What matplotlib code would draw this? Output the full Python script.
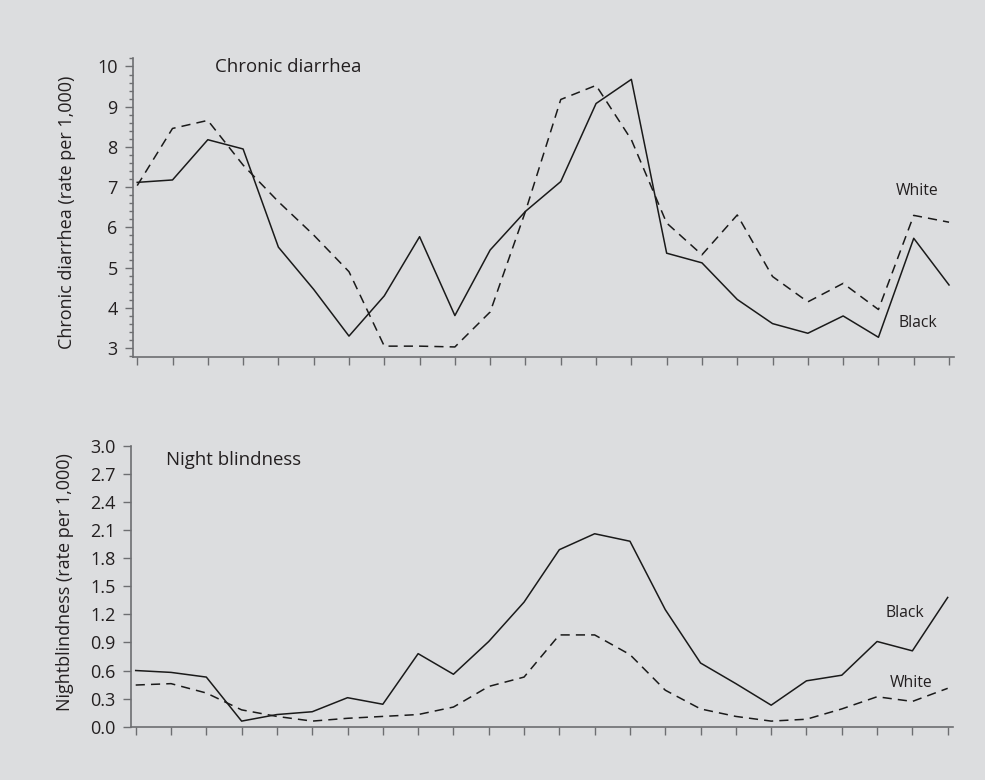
import matplotlib
matplotlib.use('Agg')
from matplotlib import pyplot as plt
from matplotlib.ticker import MultipleLocator
import numpy as np

# Chronic diarrhea, rate per 1,000 (24 periods)
diarrhea_black = [7.12, 7.18, 8.18, 7.95, 5.51, 4.46, 3.30, 4.30, 5.77, 3.81, 5.44, 6.40,
                  7.14, 9.08, 9.68, 5.36, 5.12, 4.21, 3.61, 3.37, 3.80, 3.27, 5.73, 4.57]
diarrhea_white = [7.04, 8.46, 8.66, 7.55, 6.64, 5.81, 4.90, 3.05, 3.05, 3.03, 3.90, 6.40,
                  9.18, 9.53, 8.18, 6.11, 5.32, 6.31, 4.78, 4.15, 4.61, 3.96, 6.30, 6.13]

# Night blindness, rate per 1,000
night_black = [0.60, 0.58, 0.53, 0.06, 0.13, 0.16, 0.31, 0.24, 0.78, 0.56, 0.91, 1.33,
               1.89, 2.06, 1.98, 1.25, 0.68, 0.46, 0.23, 0.49, 0.55, 0.91, 0.81, 1.38]
night_white = [0.445, 0.46, 0.36, 0.18, 0.11, 0.06, 0.09, 0.11, 0.13, 0.21, 0.43, 0.53,
               0.98, 0.98, 0.77, 0.39, 0.19, 0.11, 0.06, 0.08, 0.19, 0.32, 0.27, 0.41]

periods = np.arange(len(diarrhea_black))

bg = '#dcdddf'
txt = '#231f20'
axis_col = '#6d6e71'
font = 'Open Sans'

plt.rcParams['font.family'] = font

fig = plt.figure(figsize=(9.85, 7.8), dpi=100, facecolor=bg)


def style_axes(ax, xlim):
    ax.set_facecolor(bg)
    for s in ['top', 'right']:
        ax.spines[s].set_visible(False)
    for s in ['left', 'bottom']:
        ax.spines[s].set_color(axis_col)
        ax.spines[s].set_linewidth(1.2)
    ax.tick_params(axis='both', which='major', direction='out', length=6, width=1,
                   color=axis_col, labelsize=13, labelcolor=txt, pad=5)
    ax.tick_params(axis='x', labelbottom=False)
    ax.set_xticks(periods)
    ax.set_xlim(*xlim)


# Oben: chronischer Durchfall
ax1 = fig.add_axes([0.135, 0.5423, 0.8335, 0.3833])
style_axes(ax1, (-0.12, 23.14))
ax1.plot(periods, diarrhea_black, color='#1a1a1a', lw=1.1)
ax1.plot(periods, diarrhea_white, color='#1a1a1a', lw=1.1, dashes=(6, 4))
ax1.set_ylim(2.78, 10.21)
ax1.set_yticks(range(3, 11))
ax1.yaxis.set_minor_locator(MultipleLocator(0.2))
ax1.tick_params(axis='y', which='minor', direction='out', length=3.2, width=1, color=axis_col)
ax1.set_ylabel('Chronic diarrhea (rate per 1,000)', fontsize=13, color=txt)
ax1.yaxis.set_label_coords(-0.069, 0.483)
ax1.text(0.1, 0.97, 'Chronic diarrhea', transform=ax1.transAxes, fontsize=13.4,
         color=txt, ha='left', va='center')
ax1.text(22.1, 6.81, 'White', fontsize=11.3, color=txt, ha='center', va='baseline')
ax1.text(22.12, 3.53, 'Black', fontsize=11.3, color=txt, ha='center', va='baseline')

# Unten: Nachtblindheit
ax2 = fig.add_axes([0.133, 0.0683, 0.8345, 0.3603])
style_axes(ax2, (-0.133, 23.15))
ax2.plot(periods, night_black, color='#1a1a1a', lw=1.1)
ax2.plot(periods, night_white, color='#1a1a1a', lw=1.1, dashes=(6, 4))
ax2.set_ylim(0, 3.0)
ax2.set_yticks(np.arange(0, 3.01, 0.3))
ax2.set_yticklabels([f'{v:.1f}' for v in np.arange(0, 3.01, 0.3)])
ax2.set_ylabel('Nightblindness (rate per 1,000)', fontsize=13, color=txt)
ax2.yaxis.set_label_coords(-0.069, 0.516)
ax2.text(0.043, 0.95, 'Night blindness', transform=ax2.transAxes, fontsize=13.4,
         color=txt, ha='left', va='center')
ax2.text(21.79, 1.174, 'Black', fontsize=11.3, color=txt, ha='center', va='baseline')
ax2.text(21.96, 0.427, 'White', fontsize=11.3, color=txt, ha='center', va='baseline')

fig.savefig('out.png', dpi=100, facecolor=bg)
